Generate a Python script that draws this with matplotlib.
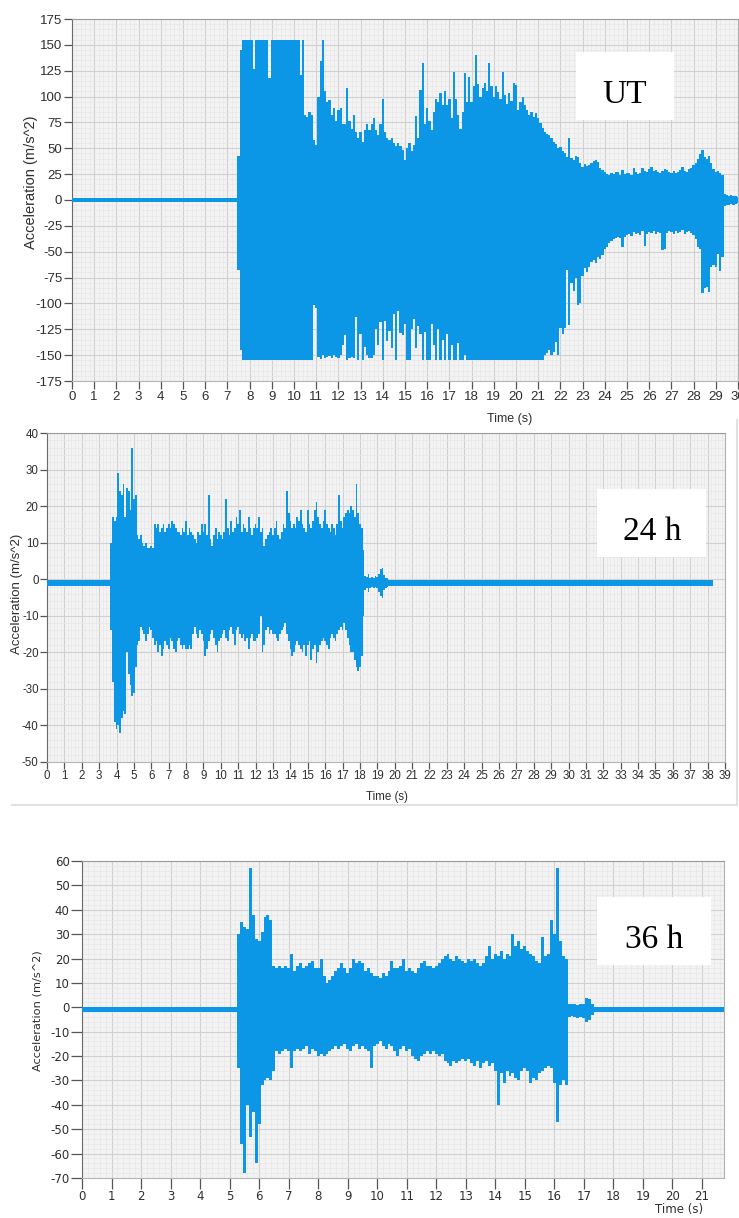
import numpy as np
import matplotlib
matplotlib.use('Agg')
import matplotlib.pyplot as plt
from matplotlib.ticker import MultipleLocator, AutoMinorLocator
from matplotlib.lines import Line2D
from matplotlib.patches import Rectangle

plt.rcParams['axes.unicode_minus'] = False

# ---- UT record: min/max of the acceleration in each 0.1 s window, from 7.4 s ----
ut_t0, ut_dt = 7.4, 0.1
ut_upper = [
    2, 43, 145, 155, 155, 155, 155, 155, 127, 155,
    155, 155, 155, 155, 155, 118, 155, 155, 155, 155,
    155, 155, 155, 155, 155, 155, 155, 155, 155, 121,
    155, 82, 80, 85, 82, 58, 53, 100, 134, 155,
    105, 95, 97, 82, 89, 76, 87, 89, 73, 73,
    108, 76, 69, 82, 66, 60, 66, 56, 68, 73,
    68, 73, 79, 68, 63, 73, 98, 66, 60, 58,
    60, 55, 52, 55, 52, 48, 39, 50, 55, 47,
    53, 81, 60, 106, 132, 73, 89, 76, 68, 85,
    98, 95, 103, 92, 105, 92, 98, 79, 124, 98,
    82, 69, 85, 123, 95, 119, 95, 110, 140, 112,
    100, 108, 113, 105, 132, 110, 100, 110, 104, 98,
    124, 102, 93, 103, 96, 113, 111, 87, 95, 100,
    92, 87, 82, 85, 80, 84, 79, 74, 70, 66,
    64, 63, 60, 56, 54, 50, 51, 47, 45, 42,
    60, 41, 39, 43, 42, 36, 32, 35, 33, 34,
    36, 38, 39, 37, 31, 29, 27, 25, 24, 26,
    25, 27, 27, 24, 29, 25, 26, 26, 24, 31,
    27, 25, 26, 31, 28, 27, 30, 32, 28, 29,
    27, 26, 28, 30, 29, 27, 26, 28, 26, 27,
    29, 32, 28, 27, 30, 31, 34, 36, 40, 44,
    48, 42, 40, 43, 36, 30, 27, 28, 26, 24,
    6, 5, 4, 5, 4, 4, 3,
]
ut_lower = [
    -2, -68, -145, -155, -155, -155, -155, -155, -155, -155,
    -155, -155, -155, -155, -155, -155, -155, -155, -155, -155,
    -155, -155, -155, -155, -155, -155, -155, -155, -155, -155,
    -155, -155, -155, -155, -155, -102, -104, -152, -154, -150,
    -153, -152, -151, -153, -150, -152, -153, -150, -140, -131,
    -155, -153, -152, -153, -113, -155, -130, -155, -142, -150,
    -153, -153, -150, -125, -140, -118, -155, -117, -136, -127,
    -143, -110, -155, -107, -129, -131, -120, -155, -155, -125,
    -115, -143, -122, -130, -155, -128, -155, -155, -120, -140,
    -155, -125, -155, -135, -155, -130, -155, -140, -155, -155,
    -138, -155, -155, -150, -155, -155, -155, -155, -155, -155,
    -155, -155, -155, -155, -155, -155, -155, -155, -155, -155,
    -155, -155, -155, -155, -155, -155, -155, -155, -155, -155,
    -155, -155, -155, -155, -155, -155, -155, -155, -155, -150,
    -148, -145, -150, -147, -137, -150, -124, -130, -124, -68,
    -121, -80, -88, -75, -102, -100, -73, -66, -70, -65,
    -60, -58, -61, -55, -57, -53, -47, -45, -42, -40,
    -38, -37, -36, -37, -45, -36, -34, -33, -35, -31,
    -33, -32, -34, -30, -44, -33, -31, -32, -30, -33,
    -31, -32, -48, -47, -32, -30, -31, -33, -30, -32,
    -31, -29, -33, -31, -30, -32, -34, -38, -45, -47,
    -90, -85, -84, -89, -65, -63, -65, -52, -69, -55,
    -6, -5, -5, -4, -5, -4, -3,
]
ut_quiet_level, ut_quiet_noise = 0.0, 2.0
ut_duration = 30.0

# ---- 24 h record, from 3.6 s ----
h24_t0, h24_dt = 3.6, 0.1
h24_upper = [
    -0.2, 10, 17, 16, 17, 29, 24, 23, 26, 17,
    25, 24, 19, 36, 22, 23, 12, 11, 12, 10,
    9, 10, 8.5, 8.5, 9, 8.5, 15, 14, 15, 13,
    14, 15, 13, 14, 15, 14, 16, 15, 14, 13,
    13, 12, 14, 13, 16, 12, 14, 13, 12, 11,
    10, 13, 12, 15, 13, 15, 12, 23, 11, 9,
    12, 14, 11, 13, 12, 11, 13, 22, 14, 12,
    16, 13, 14, 17, 15, 19, 13, 15, 14, 13,
    17, 14, 12, 14, 15, 14, 17, 13, 14, 9,
    11, 12, 13, 14, 12, 14, 16, 12, 11, 13,
    15, 14, 24, 18, 16, 14, 15, 14, 17, 16,
    19, 15, 14, 13, 19, 15, 14, 16, 19, 21,
    17, 15, 14, 16, 19, 15, 14, 13, 15, 14,
    12, 15, 23, 16, 14, 17, 18, 19, 18, 20,
    19, 17, 26, 18, 15, 14, 8, 1, 0.5, 1.5,
    0.2, 0.5, 0.4, 0.8, 0.5, 1.5, 2.8, 3, 1.2, 0.3,
    0.2,
]
h24_lower = [
    -1.8, -14, -28, -39, -41, -40, -42, -38, -36, -37,
    -20, -26, -29, -32, -31, -24, -18, -17, -13, -14,
    -15, -17, -15, -13, -14, -16, -18, -17, -20, -18,
    -21, -19, -17, -18, -19, -16, -17, -19, -20, -17,
    -16, -18, -19, -18, -19, -19, -18, -19, -15, -13,
    -15, -16, -14, -15, -17, -21, -19, -17, -15, -14,
    -16, -18, -20, -17, -16, -15, -14, -16, -17, -14,
    -13, -15, -18, -14, -13, -15, -16, -15, -17, -16,
    -19, -16, -15, -17, -17, -16, -15, -10, -20, -18,
    -14, -13, -15, -14, -15, -15, -16, -17, -15, -14,
    -13, -12, -15, -17, -19, -21, -20, -18, -17, -18,
    -19, -20, -18, -21, -18, -17, -22, -19, -18, -23,
    -20, -18, -17, -16, -17, -18, -19, -16, -15, -16,
    -17, -15, -14, -13, -14, -12, -14, -16, -18, -20,
    -20, -22, -24, -25, -24, -21, -10, -3, -2.5, -3.5,
    -2.4, -2.2, -2.4, -2, -2.5, -3.5, -4.5, -5, -3, -2.4,
    -2.2,
]
h24_quiet_level, h24_quiet_noise = -1.1, 0.8
h24_duration = 38.3

# ---- 36 h record, from 5.2 s ----
h36_t0, h36_dt = 5.2, 0.1
h36_upper = [
    0, 30, 35, 33, 32, 57, 38, 28, 27, 31,
    37, 38, 36, 17, 16, 17, 16, 17, 16, 22,
    15, 17, 18, 16, 17, 18, 19, 16, 16, 20,
    13, 10, 11, 13, 15, 16, 18, 16, 14, 16,
    20, 18, 19, 18, 15, 16, 14, 13, 13, 12,
    14, 13, 15, 19, 16, 16, 17, 20, 15, 16,
    15, 14, 16, 18, 19, 17, 17, 16, 17, 18,
    20, 21, 22, 20, 19, 21, 20, 19, 18, 20,
    19, 20, 18, 17, 18, 21, 25, 20, 22, 21,
    23, 20, 22, 21, 30, 25, 27, 24, 25, 23,
    22, 21, 19, 18, 29, 21, 22, 36, 30, 57,
    27, 21, 20, 1.5, 1.2, 1.3, 1, 1.4, 1.5, 4,
    3.5, 1.5, 0.3, 0, 0,
]
h36_lower = [
    -2, -25, -56, -68, -40, -53, -43, -64, -48, -32,
    -30, -29, -30, -26, -18, -19, -18, -17, -18, -25,
    -18, -17, -18, -17, -16, -19, -17, -18, -20, -19,
    -20, -19, -18, -17, -16, -17, -16, -15, -17, -18,
    -16, -15, -17, -16, -17, -18, -25, -16, -15, -14,
    -16, -17, -15, -16, -18, -20, -17, -16, -18, -17,
    -20, -21, -22, -20, -19, -18, -19, -18, -19, -20,
    -19, -22, -23, -24, -22, -23, -22, -21, -22, -21,
    -23, -24, -22, -25, -23, -22, -24, -23, -26, -40,
    -27, -31, -26, -28, -27, -29, -30, -26, -25, -26,
    -31, -29, -30, -27, -26, -25, -24, -25, -31, -47,
    -32, -30, -32, -4, -3.5, -4, -4.5, -4, -4.5, -6,
    -5, -3, -2, -1.8, -1.8,
]
h36_quiet_level, h36_quiet_noise = -0.9, 1.0
h36_duration = 21.75

BLUE = '#0C97E6'
NARROW = ['Liberation Sans', 'DejaVu Sans']
PLAIN = ['DejaVu Sans']
SERIF = ['Liberation Serif', 'DejaVu Serif']
W, H = 739, 1218

fig = plt.figure(figsize=(W / 100, H / 100), dpi=100)


def px_axes(x0, y0, x1, y1):
    return fig.add_axes([x0 / W, 1 - y1 / H, (x1 - x0) / W, (y1 - y0) / H])


def style(ax, xmax, ylim, ystep, font, fsize, ticklen):
    ax.set_facecolor('#F3F3F3')
    ax.set_xlim(0, xmax)
    ax.set_ylim(*ylim)
    ax.xaxis.set_major_locator(MultipleLocator(1))
    ax.yaxis.set_major_locator(MultipleLocator(ystep))
    ax.xaxis.set_minor_locator(AutoMinorLocator(5))
    ax.yaxis.set_minor_locator(AutoMinorLocator(5))
    ax.grid(which='major', color='#D0D0D0', lw=0.8)
    ax.grid(which='minor', color='#E7E7E7', lw=0.5)
    ax.set_axisbelow(True)
    ax.tick_params(which='minor', length=0)
    ax.tick_params(which='major', direction='out', length=ticklen, width=0.9,
                   color='#555555', labelsize=fsize, labelcolor='#2E2E2E',
                   pad=1, labelfontfamily=font)
    ax.spines['top'].set_color('#9A9A9A')
    ax.spines['right'].set_color('#B0B0B0')
    ax.spines['left'].set_color('#6A6A6A')
    ax.spines['bottom'].set_color('#B5B5B5')


def draw_signal(ax, t0, dt, upper, lower, level, noise, duration):
    # each window is drawn as a band from its minimum to its maximum
    t = t0 + dt * np.arange(len(upper))
    ax.fill_between(t, lower, upper, step='mid', color=BLUE, lw=0, zorder=3)
    ax.fill_between([0, t[0]], level - noise, level + noise, color=BLUE, lw=0, zorder=3)
    if duration > t[-1]:
        ax.fill_between([t[-1], duration], level - noise, level + noise,
                        color=BLUE, lw=0, zorder=3)


def tag(ax, box, text, base):
    (x0, x1), (y0, y1) = box
    ax.add_patch(Rectangle((x0, y0), x1 - x0, y1 - y0, facecolor='white',
                           edgecolor='none', zorder=4))
    ax.text((x0 + x1) / 2, base, text, ha='center', va='baseline',
            family=SERIF, fontsize=24, color='black', zorder=5)


# UT
ax1 = px_axes(72, 19, 738, 381)
style(ax1, 30, (-175, 175), 25, NARROW, 9.5, 6)
draw_signal(ax1, ut_t0, ut_dt, ut_upper, ut_lower,
            ut_quiet_level, ut_quiet_noise, ut_duration)
ax1.set_ylabel('Acceleration (m/s^2)', family=NARROW, fontsize=10.5, color='#2E2E2E')
ax1.yaxis.set_label_coords(-0.051, 0.55)
tag(ax1, ((22.7, 27.1), (77.4, 143.1)), 'UT', 93.8)
fig.text(510 / W, 1 - 419 / H, 'Time (s)', ha='center', va='center',
         family=NARROW, fontsize=9, color='#2E2E2E')

# 24 h
ax2 = px_axes(47, 433, 725, 762)
style(ax2, 39, (-50, 40), 10, NARROW, 8.3, 5)
draw_signal(ax2, h24_t0, h24_dt, h24_upper, h24_lower,
            h24_quiet_level, h24_quiet_noise, h24_duration)
ax2.set_ylabel('Acceleration (m/s^2)', family=NARROW, fontsize=9.5, color='#2E2E2E')
ax2.yaxis.set_label_coords(-0.035, 0.51)
tag(ax2, ((31.65, 37.92), (6.1, 24.7)), '24 h', 10.7)
fig.text(387 / W, 1 - 797 / H, 'Time (s)', ha='center', va='center',
         family=NARROW, fontsize=8.3, color='#2E2E2E')

# light frame around the middle graph
fig.add_artist(Line2D([12 / W, 737 / W], [1 - 805 / H, 1 - 805 / H],
                      color='#E2E2E2', lw=1.5))
fig.add_artist(Line2D([737 / W, 737 / W], [1 - 420 / H, 1 - 805 / H],
                      color='#E2E2E2', lw=1.5))

# 36 h
ax3 = px_axes(82, 861, 724, 1178)
style(ax3, h36_duration, (-70, 60), 10, PLAIN, 8.5, 8)
draw_signal(ax3, h36_t0, h36_dt, h36_upper, h36_lower,
            h36_quiet_level, h36_quiet_noise, h36_duration)
ax3.set_ylabel('Acceleration (m/s^2)', family=PLAIN, fontsize=8.2, color='#2E2E2E')
ax3.yaxis.set_label_coords(-0.062, 0.527)
tag(ax3, ((17.45, 21.31), (17.4, 45.3)), '36 h', 24.3)
fig.text(679 / W, 1 - 1210 / H, 'Time (s)', ha='center', va='center',
         family=PLAIN, fontsize=8.5, color='#2E2E2E')

fig.savefig('out.png', dpi=100, facecolor='white')
